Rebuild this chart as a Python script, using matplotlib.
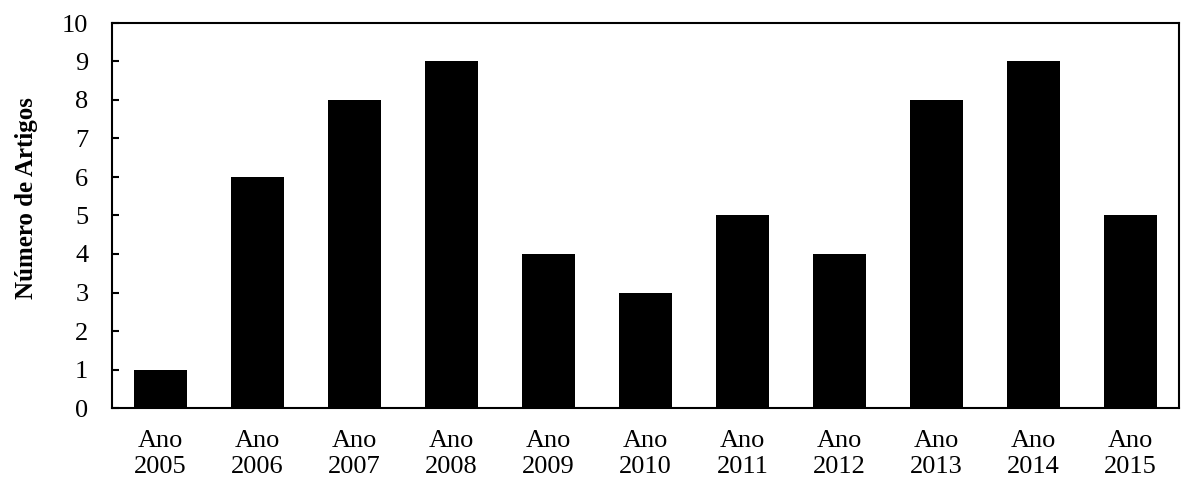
import matplotlib
matplotlib.use("Agg")
import matplotlib.pyplot as plt

years = ["2005", "2006", "2007", "2008", "2009", "2010", "2011", "2012", "2013", "2014", "2015"]
labels = ["Ano\n" + y for y in years]
counts = [1, 6, 8, 9, 4, 3, 5, 4, 8, 9, 5]

plt.rcParams['font.family'] = ['Liberation Serif', 'DejaVu Serif']

fig = plt.figure(figsize=(12, 4.9), dpi=100)
ax = fig.add_axes([112/1200, 1 - 408/490, (1179-112)/1200, (408-23)/490])
x = range(len(years))
ax.bar(x, counts, width=0.54, color='black')
ax.set_xlim(-0.5, len(years) - 0.5)
ax.set_ylim(0, 10)
ax.set_yticks(range(0, 11))
ax.set_xticks(list(x))
ax.set_xticklabels(labels, fontsize=19, linespacing=1.25)
ax.tick_params(axis='x', length=0, pad=16)
ax.tick_params(axis='y', direction='in', length=5, width=1.5, labelsize=19, pad=17)
for s in ax.spines.values():
    s.set_linewidth(1.5)
fig.text(27/1200, 1 - 198/490, "Número de Artigos", fontsize=18, fontweight='bold',
         rotation=90, ha='center', va='center')
fig.savefig("out.png", dpi=100)
